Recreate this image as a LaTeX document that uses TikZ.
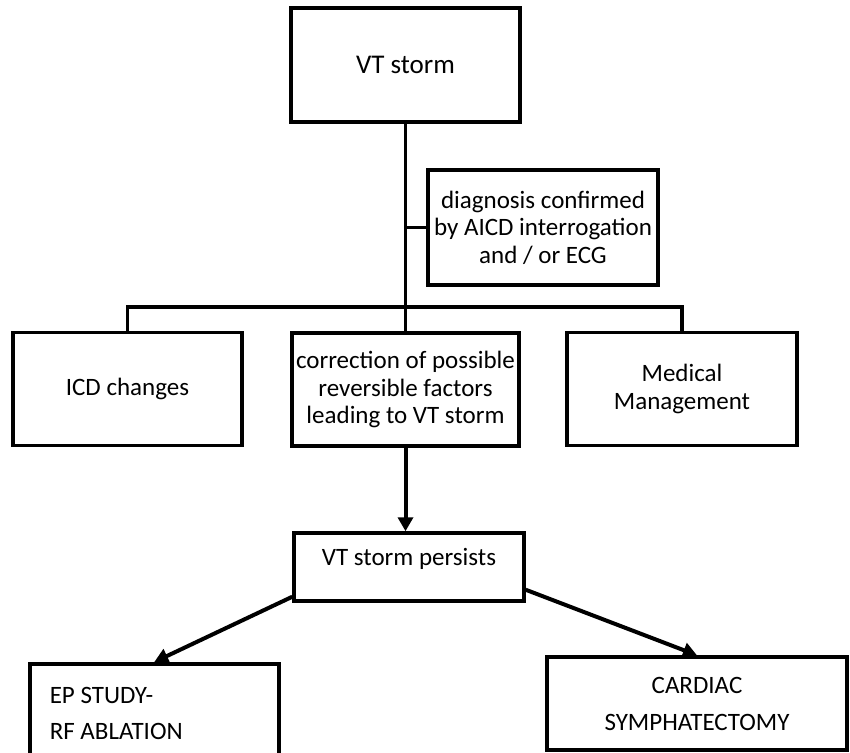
\documentclass[tikz,border=0pt]{standalone}
\usepackage{fontspec}
\setmainfont{Carlito}
\usetikzlibrary{arrows.meta}
\begin{document}
\begin{tikzpicture}[x=1pt,y=-1pt]
      \tikzstyle{box}=[draw,line width=3.5pt,align=center,inner sep=0pt,font=\fontsize{25}{27.5}\selectfont]
      \tikzstyle{link}=[draw,line width=3.5pt]
      \tikzstyle{arrow}=[draw,line width=4pt,-{Triangle[length=14pt,width=15pt]}]
      \useasboundingbox (0,0) rectangle (850,752);
      \node[box,minimum width=229pt,minimum height=114pt,font=\fontsize{27}{30}\selectfont] (storm) at (405.5,65) {VT storm};
      \node[box,minimum width=230pt,minimum height=115pt] (diag) at (543,227.5) {diagnosis confirmed\\by AICD interrogation\\and / or ECG};
      \node[box,minimum width=229pt,minimum height=113pt] (icd) at (127.5,389) {ICD changes};
      \node[box,minimum width=227pt,minimum height=113pt] (corr) at (405.5,389.5) {correction of possible\\reversible factors\\leading to VT storm};
      \node[box,minimum width=230pt,minimum height=113pt] (med) at (682,389) {Medical\\Management};
      \node[box,minimum width=230pt,minimum height=68pt,text depth=20pt] (persist) at (409,567) {VT storm persists};
      \node[box,minimum width=249pt,minimum height=100pt,text width=209pt,align=flush left,font=\fontsize{25}{36}\selectfont,anchor=north west] (ep) at (28,662) {EP STUDY-\\RF ABLATION};
      \node[box,minimum width=300pt,minimum height=93pt,font=\fontsize{25}{37}\selectfont] (card) at (697,703.5) {CARDIAC\\SYMPHATECTOMY};
      \coordinate (tap) at (storm.south |- diag.west);
      \coordinate (bus) at (405.5,307);
      \path[link] (storm) -- (corr);
      \path[link] (tap) -- (diag);
      \path[link] (icd.north) |- (bus) -| (med.north);
      \path[arrow] (corr.south) -- (corr.south |- persist.north);
      \path[arrow] ([yshift=6pt]persist.south west) -- (ep.north);
      \path[arrow] ([yshift=13pt]persist.south east) -- (card.north);
    \end{tikzpicture}
\end{document}
